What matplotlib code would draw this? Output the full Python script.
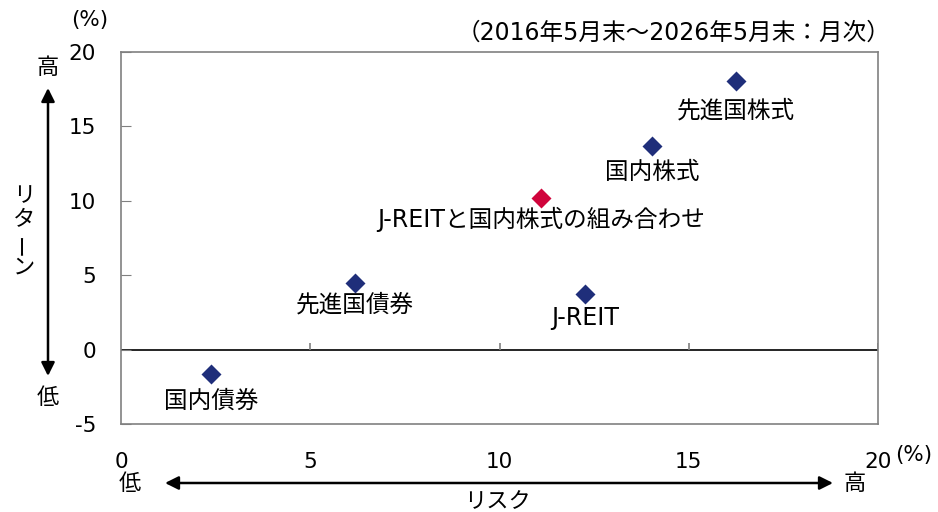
import matplotlib
matplotlib.use('Agg')
import matplotlib.pyplot as plt

plt.rcParams['font.family'] = ['DejaVu Sans', 'Noto Sans CJK JP']

# risk (x) / return (y), annualised, %
assets = ['国内債券', '先進国債券', 'J-REIT', 'J-REITと国内株式の組み合わせ', '国内株式', '先進国株式']
risk = [2.38, 6.18, 12.26, 11.10, 14.03, 16.25]
ret = [-1.64, 4.48, 3.74, 10.19, 13.68, 18.05]
highlight = [False, False, False, True, False, False]
label_gap = [-27, -22, -24, -21, -26, -29]

x_ticks = [0, 5, 10, 15, 20]
y_ticks = [-5, 0, 5, 10, 15, 20]

NAVY = '#1f2e7a'
RED = '#d0043c'
GRAY = '#808080'

fig = plt.figure(figsize=(9.38, 5.12), dpi=100)
W, H = 938, 512
ax = fig.add_axes([121 / W, 1 - 424 / H, (878 - 121) / W, (424 - 52) / H])

ax.set_xlim(0, 20)
ax.set_ylim(-5, 20)
for s in ax.spines.values():
    s.set_color(GRAY)
    s.set_linewidth(1.2)

ax.set_xticks(x_ticks)
ax.set_yticks(y_ticks)
ax.tick_params(axis='x', length=0, pad=20, labelsize=15.5)
ax.tick_params(axis='y', direction='in', length=7, color=GRAY, pad=18, labelsize=15.5)
ax.set_yticklabels([str(v) for v in y_ticks])

# zero line with its own tick marks
ax.axhline(0, color='black', lw=1.2, zorder=1)
ax.vlines(x_ticks[1:], 0, 0.45, color=GRAY, lw=1.2)

for x, y, name, hl, gap in zip(risk, ret, assets, highlight, label_gap):
    ax.plot(x, y, 'D', ms=10, color=RED if hl else NAVY, mec='none', zorder=3)
    ax.annotate(name, (x, y), xytext=(0, gap), textcoords='offset pixels',
                ha='center', va='center', fontsize=17)

# units and period
fig.text(90 / W, 1 - 20 / H, '(%)', ha='center', va='center', fontsize=15.5)
fig.text(914 / W, 1 - 455 / H, '(%)', ha='center', va='center', fontsize=15.5)
fig.text(890 / W, 1 - 33 / H, '（2016年5月末～2026年5月末：月次）',
         ha='right', va='center', fontsize=17)

arrow = dict(arrowstyle='<|-|>', color='black', lw=1.8, mutation_scale=20,
             shrinkA=0, shrinkB=0)

# return arrow
ax.annotate('', xy=(48, H - 88), xytext=(48, H - 376), xycoords='figure pixels',
            textcoords='figure pixels', arrowprops=arrow, annotation_clip=False)
fig.text(48 / W, 1 - 68 / H, '高', ha='center', va='center', fontsize=16)
fig.text(48 / W, 1 - 398 / H, '低', ha='center', va='center', fontsize=16)
for i, ch in enumerate('リターン'):
    fig.text(24 / W, 1 - (196 + i * 24) / H, ch, rotation=90 if ch == 'ー' else 0,
             ha='center', va='center', fontsize=16)

# risk arrow
ax.annotate('', xy=(165, H - 483), xytext=(833, H - 483), xycoords='figure pixels',
            textcoords='figure pixels', arrowprops=arrow, annotation_clip=False)
fig.text(130 / W, 1 - 484 / H, '低', ha='center', va='center', fontsize=16)
fig.text(855 / W, 1 - 484 / H, '高', ha='center', va='center', fontsize=16)
fig.text(497 / W, 1 - 502 / H, 'リスク', ha='center', va='center', fontsize=16)

fig.savefig('out.png', dpi=100)
